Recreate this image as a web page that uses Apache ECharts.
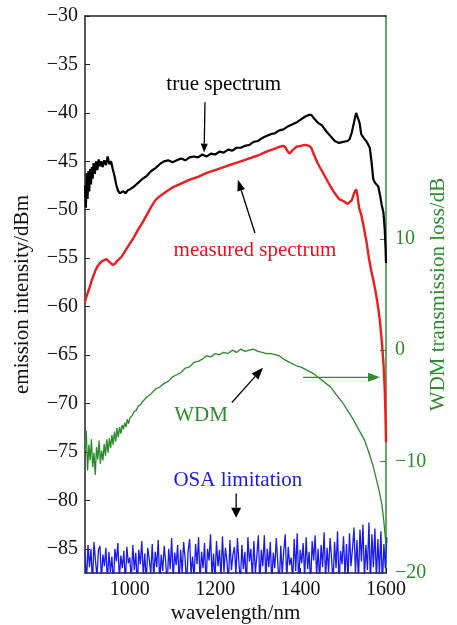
<!DOCTYPE html>
<html><head><meta charset="utf-8">
<script src="https://cdn.jsdelivr.net/npm/echarts@6/dist/echarts.min.js"></script>
<style>html,body{margin:0;padding:0;background:#fff}#c{width:457px;height:625px}</style>
</head><body><div id="c"></div>
<script>
// ---- data ----
const xTicks = [1000, 1200, 1400, 1600];
const leftTicks = [-85, -80, -75, -70, -65, -60, -55, -50, -45, -40, -35, -30];
const rightLabelTicks = [-20, -10, 0, 10];
const rightTickMarks = [-10, 0, 10];

const trueSpectrum = [[895,-47.5],[897,-49.8],[899,-46.2],[901,-48.9],[903,-46.0],[905,-48.1],[907,-45.8],[909,-47.4],[911,-45.6],[913,-46.8],[915,-45.2],[918,-46.3],[921,-45.0],[924,-45.9],[927,-44.8],[930,-45.5],[933,-45.0],[936,-45.6],[940,-44.9],[944,-45.4],[948,-44.5],[952,-45.3],[956,-45.0],[960,-45.8],[964,-46.5],[968,-47.4],[972,-48.0],[976,-48.3],[980,-48.4],[985,-48.1],[990,-48.3],[995,-48.0],[1000,-47.9],[1010,-47.6],[1020,-47.2],[1030,-46.8],[1040,-46.5],[1050,-46.0],[1060,-45.7],[1070,-45.3],[1080,-45.0],[1090,-44.9],[1100,-45.1],[1110,-44.9],[1120,-44.7],[1130,-44.9],[1140,-44.6],[1150,-44.5],[1160,-44.6],[1170,-44.3],[1180,-44.5],[1190,-44.2],[1200,-44.3],[1210,-44.0],[1220,-44.1],[1230,-43.8],[1240,-43.9],[1250,-43.6],[1260,-43.6],[1270,-43.4],[1280,-43.3],[1290,-43.0],[1300,-42.9],[1310,-42.6],[1320,-42.4],[1330,-42.2],[1340,-42.1],[1350,-41.8],[1360,-41.7],[1370,-41.4],[1380,-41.2],[1390,-41.0],[1400,-40.7],[1410,-40.4],[1420,-40.2],[1425,-40.2],[1430,-40.5],[1440,-41.0],[1450,-41.3],[1460,-41.9],[1470,-42.4],[1480,-42.9],[1490,-43.1],[1500,-43.0],[1510,-42.9],[1515,-42.7],[1520,-42.0],[1525,-41.0],[1530,-40.0],[1534,-39.8],[1538,-41.0],[1542,-42.2],[1548,-42.6],[1555,-43.0],[1562,-43.6],[1566,-45.0],[1570,-46.8],[1574,-47.2],[1578,-47.0],[1582,-47.6],[1586,-48.5],[1590,-49.5],[1594,-50.3],[1597,-52.0],[1599,-54.0],[1600,-55.5]];

const measuredSpectrum = [[895,-59.5],[898,-59.0],[902,-58.5],[906,-58.0],[910,-57.4],[915,-56.8],[920,-56.2],[925,-55.8],[930,-55.5],[935,-55.3],[940,-55.2],[945,-55.1],[950,-55.3],[955,-55.5],[960,-55.7],[965,-55.6],[970,-55.3],[980,-54.9],[990,-54.2],[1000,-53.5],[1010,-52.8],[1020,-52.0],[1030,-51.3],[1040,-50.5],[1050,-49.7],[1060,-49.0],[1070,-48.6],[1080,-48.3],[1090,-48.0],[1100,-47.7],[1120,-47.3],[1140,-46.9],[1160,-46.6],[1180,-46.2],[1200,-45.9],[1220,-45.6],[1240,-45.3],[1260,-45.0],[1280,-44.7],[1300,-44.4],[1320,-44.0],[1340,-43.7],[1350,-43.5],[1360,-43.4],[1365,-43.6],[1370,-44.0],[1375,-44.2],[1380,-43.9],[1390,-43.5],[1400,-43.4],[1410,-43.3],[1420,-43.4],[1425,-43.6],[1430,-44.2],[1440,-45.2],[1450,-46.0],[1460,-46.8],[1470,-47.6],[1480,-48.3],[1490,-48.9],[1500,-49.1],[1510,-49.4],[1520,-49.0],[1525,-48.3],[1530,-47.9],[1533,-48.5],[1537,-49.8],[1542,-50.5],[1548,-51.8],[1555,-53.5],[1560,-55.0],[1565,-56.2],[1570,-57.2],[1575,-58.3],[1580,-59.6],[1585,-61.2],[1590,-63.5],[1594,-65.8],[1597,-68.5],[1599,-71.5],[1600,-74.0]];

const wdmLoss = [[895,-9.0],[898,-7.2],[901,-10.8],[904,-8.5],[907,-9.9],[910,-8.0],[913,-10.5],[916,-9.2],[919,-11.2],[922,-8.7],[925,-9.8],[928,-8.1],[931,-10.2],[934,-9.0],[937,-9.9],[940,-8.4],[943,-9.5],[946,-8.0],[949,-9.2],[952,-7.9],[955,-8.8],[958,-7.6],[961,-8.5],[964,-7.3],[967,-8.2],[970,-7.0],[973,-7.8],[976,-6.9],[979,-7.5],[982,-6.7],[985,-7.1],[988,-6.5],[991,-6.9],[994,-6.2],[997,-6.6],[1000,-6.1],[1005,-5.9],[1010,-5.5],[1015,-5.4],[1020,-5.0],[1025,-4.9],[1030,-4.6],[1035,-4.4],[1040,-4.2],[1050,-3.9],[1060,-3.5],[1070,-3.3],[1080,-3.0],[1090,-2.8],[1100,-2.4],[1110,-2.2],[1120,-2.0],[1130,-1.6],[1140,-1.5],[1150,-1.1],[1160,-1.0],[1170,-0.8],[1180,-0.5],[1190,-0.6],[1200,-0.3],[1210,-0.4],[1220,-0.2],[1230,-0.3],[1240,0.0],[1250,-0.2],[1260,0.1],[1270,-0.1],[1280,0.0],[1290,0.1],[1300,-0.1],[1310,-0.2],[1320,-0.3],[1330,-0.3],[1340,-0.4],[1350,-0.5],[1360,-0.8],[1370,-1.0],[1380,-1.2],[1390,-1.4],[1400,-1.5],[1410,-1.7],[1420,-1.9],[1430,-2.1],[1440,-2.4],[1450,-2.7],[1460,-3.0],[1470,-3.3],[1480,-3.8],[1490,-4.3],[1500,-4.8],[1510,-5.4],[1520,-6.0],[1530,-6.7],[1540,-7.4],[1550,-8.1],[1560,-9.2],[1570,-10.4],[1575,-11.2],[1580,-12.0],[1585,-12.8],[1590,-13.8],[1594,-15.0],[1597,-16.2],[1600,-17.5]];

// OSA noise floor, sampled every osaStep nm from osaStart
const osaStart = 895, osaStep = 3.5;
const osaNoise = [
-85.2,-88.5,-84.6,-86.9,-85.0,-88.8,-84.3,-86.2,-87.9,-85.1,-84.7,-88.2,-85.6,-86.8,-84.9,-88.6,-85.3,-87.4,-85.8,-88.9,
-85.0,-86.3,-84.4,-88.1,-85.7,-87.0,-85.2,-88.7,-84.8,-86.5,-85.9,-88.3,-84.6,-87.2,-85.4,-88.9,-85.1,-86.6,-84.2,-87.8,
-85.5,-88.4,-84.9,-86.1,-87.6,-84.5,-88.0,-85.3,-86.9,-84.1,-88.6,-85.6,-87.3,-84.7,-86.4,-88.8,-85.0,-87.1,-83.9,-88.2,
-85.4,-86.7,-84.6,-88.5,-85.1,-87.5,-84.3,-86.0,-88.9,-85.2,-84.0,-87.7,-85.8,-88.1,-84.5,-86.6,-83.8,-88.4,-85.3,-87.0,
-84.4,-88.7,-85.0,-86.2,-83.5,-87.9,-85.5,-88.3,-84.2,-86.8,-85.1,-88.0,-83.7,-87.4,-84.9,-86.3,-88.6,-84.1,-87.2,-85.6,
-84.8,-87.7,-83.9,-86.5,-88.4,-84.6,-87.1,-85.3,-88.9,-83.8,-86.3,-85.0,-88.1,-84.2,-87.5,-85.7,-83.6,-88.6,-85.1,-86.8,
-83.6,-88.1,-85.0,-86.9,-84.3,-88.5,-85.4,-87.0,-83.9,-86.4,-88.8,-84.7,-87.6,-85.2,-83.5,-88.2,-84.8,-86.7,-85.9,-88.4,
-84.0,-87.3,-83.4,-88.6,-85.1,-86.5,-84.4,-88.0,-83.8,-87.1,-85.3,-88.7,-84.2,-86.2,-83.6,-87.8,-85.0,-88.3,-84.6,-86.9,
-83.3,-88.1,-84.9,-87.4,-83.9,-86.0,-88.5,-84.3,-87.0,-83.2,-88.8,-85.2,-86.6,-83.7,-87.9,-84.5,-88.2,-83.4,-86.8,-85.0,
-82.8,-87.5,-84.1,-88.4,-83.0,-86.3,-82.5,-88.0,-84.6,-87.2,-82.3,-88.6,-83.5,-86.9,-82.9,-88.2,-84.0,-87.6,-83.2,-88.9,
-84.5,-87.0,-83.8
];

// annotations (data coords: wavelength, left-axis dB)
const labels = [
  {text: 'true spectrum', at: [1220, -37.1], color: '#000'},
  {text: 'measured spectrum', at: [1293, -54.2], color: '#e8141c'},
  {text: 'WDM', at: [1167, -71.2], color: '#2e8b2e'},
  {text: 'OSA limitation', at: [1253, -78.0], color: '#1a1aee'}
];
const arrows = [
  {from: [1176, -38.9], to: [1174, -44.1], color: '#000', head: [9, 7]},
  {from: [1293, -52.4], to: [1253, -46.9], color: '#000', head: [11, 8]},
  {from: [1239, -69.9], to: [1312, -66.3], color: '#000', head: [12, 9]},
  {from: [1406, -67.3], to: [1586, -67.3], color: '#2e8b2e', head: [12, 9]},
  {from: [1249, -79.3], to: [1249, -81.8], color: '#000', head: [10, 10]}
];

// ---- chart ----
const FONT = "'Liberation Serif','Times New Roman',serif";
const GREEN = '#2e8b2e';
const minus = v => String(v).replace('-', '\u2212');
const osaData = osaNoise.map((v, i) => [osaStart + i * osaStep, v]);

const chart = echarts.init(document.getElementById('c'), null, {renderer: 'canvas'});
chart.setOption({
  animation: false,
  backgroundColor: '#fff',
  grid: {left: 85, right: 71, top: 16, bottom: 52, containLabel: false, outerBoundsMode: 'none'},
  xAxis: [{
    type: 'value', min: 895, max: 1600, position: 'bottom',
    name: 'wavelength/nm', nameLocation: 'middle', nameGap: 30, nameMoveOverlap: false,
    nameTextStyle: {fontFamily: FONT, fontSize: 21, color: '#111'},
    axisLine: {onZero: false, lineStyle: {color: '#222', width: 1.5}},
    axisTick: {inside: true, length: 5, customValues: xTicks, lineStyle: {color: '#222'}},
    axisLabel: {customValues: xTicks, margin: 7, fontFamily: FONT, fontSize: 20, color: '#111', formatter: v => String(v)},
    splitLine: {show: false}
  }, {
    type: 'value', min: 895, max: 1600, position: 'top',
    axisLine: {onZero: false, lineStyle: {color: '#222', width: 1.5}},
    axisTick: {show: false}, axisLabel: {show: false}, splitLine: {show: false}
  }],
  yAxis: [{
    type: 'value', min: -87.5, max: -30, position: 'left',
    name: 'emission intensity/dBm', nameLocation: 'middle', nameGap: 52, nameRotate: 90, nameMoveOverlap: false,
    nameTextStyle: {fontFamily: FONT, fontSize: 21, color: '#111'},
    axisLine: {onZero: false, lineStyle: {color: '#222', width: 1.5}},
    axisTick: {inside: true, length: 5, customValues: leftTicks, lineStyle: {color: '#222'}},
    axisLabel: {customValues: leftTicks, margin: 7, fontFamily: FONT, fontSize: 20, color: '#111', formatter: minus},
    splitLine: {show: false}
  }, {
    type: 'value', min: -20, max: 30, position: 'right',
    name: 'WDM transmission loss/dB', nameLocation: 'middle', nameGap: 42, nameRotate: 90, nameMoveOverlap: false,
    nameTextStyle: {fontFamily: FONT, fontSize: 21, color: GREEN},
    axisLine: {onZero: false, lineStyle: {color: GREEN, width: 1.5}},
    axisTick: {inside: true, length: 6, customValues: rightTickMarks, lineStyle: {color: GREEN}},
    axisLabel: {customValues: rightLabelTicks, margin: 9, fontFamily: FONT, fontSize: 20, color: GREEN, formatter: minus},
    splitLine: {show: false}
  }],
  series: [
    {name: 'OSA limitation', type: 'line', data: osaData, xAxisIndex: 0, yAxisIndex: 0,
     showSymbol: false, lineStyle: {color: '#1a1aee', width: 1.3}, z: 2},
    {name: 'WDM', type: 'line', data: wdmLoss, xAxisIndex: 0, yAxisIndex: 1,
     showSymbol: false, lineStyle: {color: '#2a8a2a', width: 1.3}, z: 3},
    {name: 'measured spectrum', type: 'line', data: measuredSpectrum, xAxisIndex: 0, yAxisIndex: 0,
     showSymbol: false, lineStyle: {color: '#ee1c1c', width: 2.4}, z: 4},
    {name: 'true spectrum', type: 'line', data: trueSpectrum, xAxisIndex: 0, yAxisIndex: 0,
     showSymbol: false, lineStyle: {color: '#000', width: 2.2}, z: 5}
  ]
});

function px(p) { return chart.convertToPixel({xAxisIndex: 0, yAxisIndex: 0}, p); }
const g = [];
labels.forEach(l => {
  const p = px(l.at);
  g.push({type: 'text', x: p[0], y: p[1], z: 10,
    style: {text: l.text, fill: l.color, font: '21px ' + FONT, align: 'center', verticalAlign: 'middle'}});
});
arrows.forEach(a => {
  const p0 = px(a.from), p1 = px(a.to);
  const dx = p1[0] - p0[0], dy = p1[1] - p0[1];
  const len = Math.hypot(dx, dy), ux = dx / len, uy = dy / len;
  const hl = a.head[0], hw = a.head[1] / 2;
  const bx = p1[0] - ux * hl, by = p1[1] - uy * hl;
  g.push({type: 'line', z: 10, shape: {x1: p0[0], y1: p0[1], x2: bx, y2: by},
    style: {stroke: a.color, lineWidth: 1.3}});
  g.push({type: 'polygon', z: 10, shape: {points: [[p1[0], p1[1]], [bx - uy * hw, by + ux * hw], [bx + uy * hw, by - ux * hw]]},
    style: {fill: a.color}});
});
chart.setOption({graphic: g});
</script>
</body></html>
